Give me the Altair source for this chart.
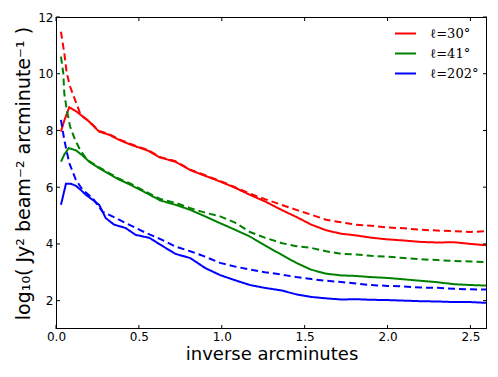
import altair as alt
import pandas as pd

# ---- data ----
red_solid_x = [0.03, 0.05, 0.08, 0.12, 0.16, 0.2, 0.26, 0.32, 0.38, 0.45, 0.55, 0.63, 0.72, 0.81, 0.9, 0.99,
               1.08, 1.17, 1.26, 1.36, 1.45, 1.54, 1.63, 1.72, 1.81, 1.9, 2.0, 2.1, 2.2, 2.3, 2.4, 2.5, 2.6]
red_solid_y = [7.96, 8.35, 8.82, 8.68, 8.5, 8.31, 7.96, 7.85, 7.67, 7.5, 7.3, 7.04, 6.9, 6.6, 6.4, 6.2,
               5.98, 5.73, 5.5, 5.2, 4.95, 4.68, 4.48, 4.36, 4.3, 4.22, 4.16, 4.12, 4.07, 4.05, 4.06, 4.0, 3.95]

red_dash_x = [0.03, 0.05, 0.065, 0.085, 0.115, 0.145, 0.16, 0.2, 0.26, 0.32, 0.38, 0.45, 0.55, 0.63, 0.72, 0.81,
              0.9, 0.99, 1.08, 1.17, 1.26, 1.36, 1.45, 1.54, 1.63, 1.72, 1.81, 1.9, 2.0, 2.1, 2.2, 2.3, 2.4, 2.5, 2.6]
red_dash_y = [11.48, 10.72, 10.02, 9.55, 9.08, 8.61, 8.5, 8.32, 7.98, 7.87, 7.69, 7.52, 7.32, 7.06, 6.92, 6.62,
              6.42, 6.22, 6.0, 5.77, 5.58, 5.38, 5.2, 5.03, 4.85, 4.76, 4.68, 4.64, 4.58, 4.55, 4.5, 4.47, 4.45, 4.42, 4.45]

green_solid_x = [0.03, 0.05, 0.077, 0.12, 0.16, 0.2, 0.26, 0.32, 0.38, 0.45, 0.55, 0.63, 0.72, 0.81, 0.9, 0.99,
                 1.08, 1.17, 1.26, 1.36, 1.45, 1.54, 1.63, 1.72, 1.81, 1.9, 2.0, 2.1, 2.2, 2.3, 2.4, 2.5, 2.6]
green_solid_y = [6.9, 7.15, 7.38, 7.3, 7.12, 6.9, 6.67, 6.47, 6.27, 6.08, 5.78, 5.53, 5.38, 5.2, 4.97, 4.73,
                 4.5, 4.26, 3.95, 3.62, 3.33, 3.09, 2.95, 2.89, 2.87, 2.83, 2.8, 2.75, 2.7, 2.65, 2.58, 2.55, 2.53]

green_dash_x = [0.03, 0.044, 0.05, 0.065, 0.085, 0.115, 0.145, 0.18, 0.2, 0.26, 0.32, 0.38, 0.45, 0.55, 0.63, 0.72,
                0.81, 0.9, 0.99, 1.08, 1.17, 1.26, 1.36, 1.45, 1.54, 1.63, 1.72, 1.81, 1.9, 2.0, 2.1, 2.2, 2.3,
                2.4, 2.5, 2.6]
green_dash_y = [10.6, 10.02, 9.3, 8.73, 8.14, 7.67, 7.32, 7.02, 6.92, 6.7, 6.5, 6.3, 6.12, 5.82, 5.58, 5.45,
                5.26, 5.1, 4.97, 4.75, 4.42, 4.22, 4.03, 3.92, 3.86, 3.74, 3.65, 3.63, 3.58, 3.55, 3.5, 3.46, 3.43,
                3.4, 3.38, 3.36]

blue_solid_x = [0.03, 0.06, 0.09, 0.12, 0.15, 0.18, 0.22, 0.26, 0.3, 0.35, 0.42, 0.48, 0.565, 0.63, 0.72, 0.81,
                0.9, 0.99, 1.08, 1.17, 1.26, 1.36, 1.45, 1.54, 1.63, 1.72, 1.81, 1.9, 2.0, 2.1, 2.2, 2.3, 2.4,
                2.5, 2.6]
blue_solid_y = [5.38, 6.12, 6.12, 6.05, 5.9, 5.73, 5.56, 5.38, 4.91, 4.68, 4.56, 4.32, 4.21, 3.97, 3.65, 3.5,
                3.15, 2.9, 2.72, 2.55, 2.45, 2.36, 2.22, 2.13, 2.08, 2.04, 2.05, 2.03, 2.02, 2.0, 1.98, 1.97, 1.95,
                1.95, 1.92]

blue_dash_x = [0.03, 0.05, 0.08, 0.12, 0.16, 0.22, 0.28, 0.34, 0.44, 0.545, 0.63, 0.72, 0.81, 0.9, 0.99, 1.08,
               1.17, 1.26, 1.36, 1.45, 1.54, 1.63, 1.72, 1.81, 1.9, 2.0, 2.1, 2.2, 2.3, 2.4, 2.5, 2.6]
blue_dash_y = [8.37, 7.67, 6.85, 6.26, 5.91, 5.62, 5.14, 4.97, 4.68, 4.38, 4.17, 3.91, 3.74, 3.55, 3.33, 3.2,
               3.1, 3.0, 2.92, 2.83, 2.76, 2.7, 2.66, 2.6, 2.55, 2.52, 2.5, 2.46, 2.45, 2.42, 2.4, 2.39]

locations = ["ℓ=30°", "ℓ=41°", "ℓ=202°"]
colors = ["#ff0000", "#008000", "#0000ff"]
x_ticks = [0.0, 0.5, 1.0, 1.5, 2.0, 2.5]
y_ticks = [2, 4, 6, 8, 10, 12]

W, H = 431, 312
TICK = 4

series = [
    (locations[0], "solid", red_solid_x, red_solid_y),
    (locations[0], "dashed", red_dash_x, red_dash_y),
    (locations[1], "solid", green_solid_x, green_solid_y),
    (locations[1], "dashed", green_dash_x, green_dash_y),
    (locations[2], "solid", blue_solid_x, blue_solid_y),
    (locations[2], "dashed", blue_dash_x, blue_dash_y),
]
rows = []
for loc, kind, xs, ys in series:
    for i, (xv, yv) in enumerate(zip(xs, ys)):
        rows.append({"loc": loc, "kind": kind, "series": loc + kind, "order": i, "x": xv, "y": yv})
df = pd.DataFrame(rows)
xt_df = pd.DataFrame({"t": x_ticks})
yt_df = pd.DataFrame({"t": y_ticks})
one = pd.DataFrame({"f": [0]})

xscale = alt.Scale(domain=[0, 2.6], nice=False, zero=False)
yscale = alt.Scale(domain=[1, 12], nice=False, zero=False)

lines = alt.Chart(df).mark_line(strokeWidth=2, clip=True).encode(
    x=alt.X("x:Q", scale=xscale,
            axis=alt.Axis(values=x_ticks, format=".1f", title="inverse arcminutes", orient="bottom",
                          ticks=False, domain=False, grid=False, labelPadding=2, labelFlush=False,
                          labelFontSize=12, titleFontSize=18, titlePadding=3, labelFont="DejaVu Sans",
                          titleFont="DejaVu Sans", titleFontWeight="normal",
                          labelColor="black", titleColor="black")),
    y=alt.Y("y:Q", scale=yscale,
            axis=alt.Axis(values=y_ticks, format="d", title="log₁₀( Jy² beam⁻² arcminute⁻¹ )",
                          orient="left", ticks=False, domain=False, grid=False, labelFlush=False,
                          labelPadding=3, labelFontSize=12, titleFontSize=19, titlePadding=4,
                          labelFont="DejaVu Sans", titleFont="DejaVu Sans", titleFontWeight="normal",
                          labelColor="black", titleColor="black")),
    color=alt.Color("loc:N", scale=alt.Scale(domain=locations, range=colors),
                    legend=alt.Legend(title=None, orient="none", legendX=338, legendY=5,
                                      symbolType="stroke", symbolSize=441, symbolStrokeWidth=2,
                                      labelFont="DejaVu Serif", labelFontSize=13, rowPadding=1,
                                      labelOffset=13, labelColor="black")),
    strokeDash=alt.StrokeDash("kind:N", scale=alt.Scale(domain=["solid", "dashed"], range=[[1, 0], [7, 4]]),
                              legend=None),
    detail="series:N",
    order="order:Q",
)

edge = dict(color="black", strokeWidth=1)
frame_top = alt.Chart(one).mark_rule(**edge).encode(x=alt.value(0), x2=alt.value(W), y=alt.value(0.5))
frame_bottom = alt.Chart(one).mark_rule(**edge).encode(x=alt.value(0), x2=alt.value(W), y=alt.value(H - 0.5))
frame_left = alt.Chart(one).mark_rule(**edge).encode(y=alt.value(0), y2=alt.value(H), x=alt.value(0.5))
frame_right = alt.Chart(one).mark_rule(**edge).encode(y=alt.value(0), y2=alt.value(H), x=alt.value(W - 0.5))

xt_bottom = alt.Chart(xt_df).mark_rule(**edge).encode(
    x=alt.X("t:Q", scale=xscale), y=alt.value(H - TICK), y2=alt.value(H))
xt_top = alt.Chart(xt_df).mark_rule(**edge).encode(
    x=alt.X("t:Q", scale=xscale), y=alt.value(0), y2=alt.value(TICK))
yt_left = alt.Chart(yt_df).mark_rule(**edge).encode(
    y=alt.Y("t:Q", scale=yscale), x=alt.value(0), x2=alt.value(TICK))
yt_right = alt.Chart(yt_df).mark_rule(**edge).encode(
    y=alt.Y("t:Q", scale=yscale), x=alt.value(W - TICK), x2=alt.value(W))

chart = alt.layer(lines, xt_bottom, xt_top, yt_left, yt_right,
                  frame_top, frame_bottom, frame_left, frame_right).properties(
    width=W, height=H,
    background="white",
    autosize=alt.AutoSizeParams(type="none"),
    padding={"left": 48, "top": 9, "right": 3, "bottom": 35},
).configure_view(stroke=None)

chart.save("out.html", embed_options={"renderer": "svg", "actions": False})
